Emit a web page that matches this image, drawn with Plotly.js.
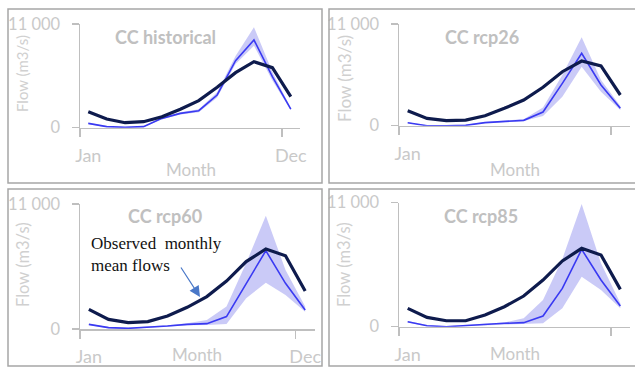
<!DOCTYPE html>
<html>
<head>
<meta charset="utf-8">
<script src="https://cdn.plot.ly/plotly-3.0.1.min.js"></script>
<style>html,body{margin:0;padding:0;background:#fff;}#chart{width:635px;height:367px;}</style>
</head>
<body>
<div id="chart"></div>
<script>
// ---- data ----
const months = [1,2,3,4,5,6,7,8,9,10,11,12];
const xTickLabels = ['Jan','Dec'];
const yTickLabels = ['0','11 000'];
const panelTitles = ['CC historical','CC rcp26','CC rcp60','CC rcp85'];

// observed monthly mean flows (m3/s)
const obsHist  = [1700, 920, 530, 640, 1170, 1950, 2870, 4280, 5840, 7000, 6370, 3290];
const obsRcp26 = [1620, 790, 540, 610, 1080, 1880, 2780, 4150, 5840, 7000, 6460, 3320];
const obsRcp60 = [1730, 850, 560, 650, 1140, 1910, 2850, 4220, 5930, 7040, 6450, 3340];
const obsRcp85 = [1630, 830, 530, 530, 1040, 1770, 2720, 4140, 5830, 6950, 6360, 3310];

// simulated mean
const simHist  = [460, 110, 40, 110, 990, 1520, 1800, 3470, 7110, 9300, 5410, 1980];
const simRcp26 = [325, 0, 0, 40, 330, 470, 580, 1480, 4580, 7830, 4400, 1880];
const simRcp60 = [410, 120, 60, 150, 260, 410, 470, 1090, 3960, 6890, 4020, 1670];
const simRcp85 = [440, 90, 0, 120, 240, 300, 360, 950, 3400, 6860, 4140, 1830];

// simulated range (lower / upper)
const lowHist  = [400, 60, 0, 60, 900, 1400, 1650, 3200, 6750, 8700, 5000, 1850];
const upHist   = [520, 160, 80, 160, 1100, 1650, 1950, 3750, 7600, 10650, 5900, 2100];
const lowRcp26 = [280, 0, 0, 0, 280, 400, 500, 1050, 3140, 6380, 3680, 1700];
const upRcp26  = [380, 60, 50, 90, 400, 560, 700, 1980, 5480, 9560, 4940, 2130];
const lowRcp60 = [350, 60, 0, 90, 200, 330, 350, 440, 2700, 4080, 2990, 1520];
const upRcp60  = [470, 180, 120, 210, 330, 500, 790, 1970, 5800, 9970, 5190, 1970];
const lowRcp85 = [380, 40, 0, 60, 180, 240, 240, 300, 1630, 4440, 3250, 1630];
const upRcp85  = [500, 140, 60, 180, 300, 380, 740, 2370, 6000, 10880, 5620, 2070];

const panels = [
  {obs: obsHist,  sim: simHist,  low: lowHist,  up: upHist},
  {obs: obsRcp26, sim: simRcp26, low: lowRcp26, up: upRcp26},
  {obs: obsRcp60, sim: simRcp60, low: lowRcp60, up: upRcp60},
  {obs: obsRcp85, sim: simRcp85, low: lowRcp85, up: upRcp85}
];

// ---- styling ----
const W = 635, H = 367;
const px = v => v / W;
const py = v => 1 - v / H;
const gridTxt = '#c9c9c9';
const axisCol = '#bfbfbf';
const font = 'Lato, "Open Sans", sans-serif';

// pixel geometry of each plot area: [x0, x1, yTop, yBottom]
const geo = [
  [80, 300, 24, 127.7],
  [399, 630, 24, 125.7],
  [80, 315, 204, 329],
  [399, 630, 202.7, 326.7]
];

const traces = [];
const layout = {
  width: W, height: H,
  margin: {l: 0, r: 0, t: 0, b: 0},
  paper_bgcolor: '#ffffff',
  plot_bgcolor: 'rgba(0,0,0,0)',
  showlegend: false,
  shapes: [],
  annotations: []
};

panels.forEach((p, i) => {
  const n = i + 1;
  const xa = 'x' + (n === 1 ? '' : n);
  const ya = 'y' + (n === 1 ? '' : n);
  traces.push({x: months, y: p.low, xaxis: xa, yaxis: ya, mode: 'lines',
    line: {width: 0, color: 'rgba(0,0,0,0)'}, hoverinfo: 'skip'});
  traces.push({x: months, y: p.up, xaxis: xa, yaxis: ya, mode: 'lines',
    fill: 'tonexty', fillcolor: 'rgba(150,150,240,0.5)',
    line: {width: 0, color: 'rgba(0,0,0,0)'}, hoverinfo: 'skip'});
  traces.push({x: months, y: p.sim, xaxis: xa, yaxis: ya, mode: 'lines',
    line: {width: 1.6, color: '#3a3af2'}});
  traces.push({x: months, y: p.obs, xaxis: xa, yaxis: ya, mode: 'lines',
    line: {width: 3.2, color: '#0e1b4d'}});

  const g = geo[i];
  const xkey = 'xaxis' + (n === 1 ? '' : n);
  const ykey = 'yaxis' + (n === 1 ? '' : n);
  layout[xkey] = {
    domain: [px(g[0]), px(g[1])], anchor: ya,
    range: [0.55, 12.5], fixedrange: true,
    showline: true, linecolor: axisCol, linewidth: 1.5,
    showgrid: false, zeroline: false,
    tickmode: 'array', tickvals: [1, 12], ticktext: xTickLabels,
    ticks: 'outside', ticklen: 0, tickcolor: axisCol,
    ticklabelstandoff: 11,
    tickfont: {family: font, size: 18, color: gridTxt},
    minor: {tickmode: 'array', tickvals: [0.56, 11.52], ticks: 'outside', ticklen: 8, tickcolor: axisCol, tickwidth: 1.5}
  };
  layout[ykey] = {
    domain: [py(g[3]), py(g[2])], anchor: xa,
    range: [0, 11000], fixedrange: true,
    showline: true, linecolor: axisCol, linewidth: 1.5,
    showgrid: false, zeroline: false,
    tickmode: 'array', tickvals: [0, 11000], ticktext: yTickLabels,
    ticks: 'outside', ticklen: 7, tickcolor: axisCol, tickwidth: 1.5,
    ticklabelstandoff: 8,
    tickfont: {family: font, size: 16.5, color: gridTxt}
  };
});

// panel frames
const frames = [[8, 322, 9, 183], [329, 645, 9, 183], [8, 322, 189, 366], [329, 645, 189, 366]];
frames.forEach(f => {
  layout.shapes.push({type: 'rect', xref: 'paper', yref: 'paper',
    x0: px(f[0]), x1: px(f[1]), y0: py(f[3]), y1: py(f[2]),
    line: {color: '#a6a6a6', width: 1.5}, fillcolor: 'rgba(0,0,0,0)'});
});

// titles and axis titles
const titlePos = [[165, 37], [482, 37], [165, 216], [481, 216]];
const monthPos = [[191, 170], [515, 170], [197, 354], [515, 353]];
const flowPos  = [[22, 74], [345, 79], [23, 265], [344, 265]];
const flowSize = [15, 17, 16.5, 16.5];
panelTitles.forEach((t, i) => {
  layout.annotations.push({text: '<b>' + t + '</b>', xref: 'paper', yref: 'paper',
    x: px(titlePos[i][0]), y: py(titlePos[i][1]), xanchor: 'center', yanchor: 'middle',
    showarrow: false, font: {family: font, size: 18, color: '#c0c0c0'}});
  layout.annotations.push({text: 'Month', xref: 'paper', yref: 'paper',
    x: px(monthPos[i][0]), y: py(monthPos[i][1]), xanchor: 'center', yanchor: 'middle',
    showarrow: false, font: {family: font, size: 17, color: gridTxt}});
  layout.annotations.push({text: 'Flow (m3/s)', xref: 'paper', yref: 'paper',
    x: px(flowPos[i][0]), y: py(flowPos[i][1]), xanchor: 'center', yanchor: 'middle',
    textangle: -90, showarrow: false, font: {family: font, size: flowSize[i], color: '#d0d0d0'}});
});

// observed flows callout
layout.annotations.push({text: 'Observed&nbsp; monthly<br>mean flows', xref: 'paper', yref: 'paper',
  x: px(89), y: py(254), xanchor: 'left', yanchor: 'middle', align: 'left',
  showarrow: false, font: {family: '"Liberation Serif", "DejaVu Serif", serif', size: 17, color: '#111111'}});
layout.annotations.push({text: '', xref: 'paper', yref: 'paper',
  x: px(200), y: py(297), ax: -20, ay: -31, showarrow: true,
  arrowhead: 2, arrowsize: 1.8, arrowwidth: 1.2, arrowcolor: '#4a78c8'});

Plotly.newPlot('chart', traces, layout, {displayModeBar: false, staticPlot: true});
</script>
</body>
</html>
